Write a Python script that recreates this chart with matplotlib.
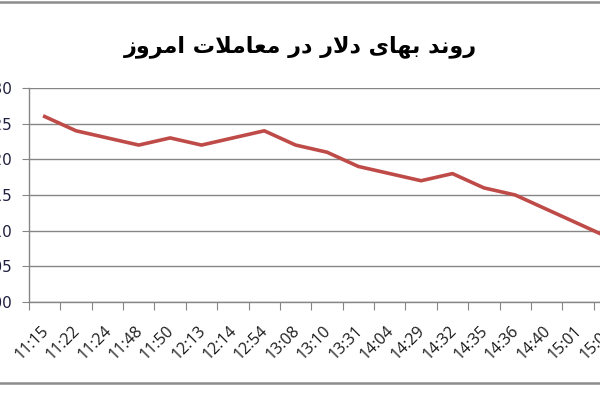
import matplotlib
matplotlib.use("Agg")
import matplotlib.pyplot as plt
import matplotlib.transforms as mtransforms
from matplotlib.patches import Rectangle

# data
times = ["11:15", "11:22", "11:24", "11:48", "11:50", "12:13", "12:14", "12:54",
         "13:08", "13:10", "13:31", "14:04", "14:29", "14:32", "14:35", "14:36",
         "14:40", "15:01", "15:05"]
prices = [3626, 3624, 3623, 3622, 3623, 3622, 3623, 3624,
          3622, 3621, 3619, 3618, 3617, 3618, 3616, 3615,
          3613, 3611, 3609]
y_ticks = [3600, 3605, 3610, 3615, 3620, 3625, 3630]
title = "روند بهای دلار در معاملات امروز"

# minimal Persian shaping (matplotlib has no complex text layout)
FORMS = {
    "ا": ("\uFE8D", "\uFE8E", None, None),
    "ب": ("\uFE8F", "\uFE90", "\uFE91", "\uFE92"),
    "ت": ("\uFE95", "\uFE96", "\uFE97", "\uFE98"),
    "د": ("\uFEA9", "\uFEAA", None, None),
    "ر": ("\uFEAD", "\uFEAE", None, None),
    "ز": ("\uFEAF", "\uFEB0", None, None),
    "ع": ("\uFEC9", "\uFECA", "\uFECB", "\uFECC"),
    "ل": ("\uFEDD", "\uFEDE", "\uFEDF", "\uFEE0"),
    "م": ("\uFEE1", "\uFEE2", "\uFEE3", "\uFEE4"),
    "ن": ("\uFEE5", "\uFEE6", "\uFEE7", "\uFEE8"),
    "ه": ("\uFEE9", "\uFEEA", "\uFEEB", "\uFEEC"),
    "و": ("\uFEED", "\uFEEE", None, None),
    "ی": ("\uFBFC", "\uFBFD", "\uFBFE", "\uFBFF"),
}
LAM_ALEF = ("\uFEFB", "\uFEFC")


def shape(text):
    out = []
    i = 0
    n = len(text)
    while i < n:
        ch = text[i]
        if ch not in FORMS:
            out.append(ch)
            i += 1
            continue
        prev = text[i - 1] if i > 0 else ""
        joins_prev = prev in FORMS and FORMS[prev][2] is not None
        if ch == "ل" and i + 1 < n and text[i + 1] == "ا":
            out.append(LAM_ALEF[1] if joins_prev else LAM_ALEF[0])
            i += 2
            continue
        nxt = text[i + 1] if i + 1 < n else ""
        joins_next = FORMS[ch][2] is not None and nxt in FORMS
        iso, fin, ini, med = FORMS[ch]
        if joins_prev and joins_next:
            out.append(med)
        elif joins_prev:
            out.append(fin)
        elif joins_next:
            out.append(ini)
        else:
            out.append(iso)
        i += 1
    return "".join(out)[::-1]


fig = plt.figure(figsize=(6, 4), dpi=100)
fig.patch.set_facecolor("white")

# chart border (Excel style frame, partly cut off)
fig.patches.append(Rectangle((-0.05, 17 / 400), 1.1, 381 / 400, transform=fig.transFigure,
                             fill=False, edgecolor="#8c8c8c", linewidth=1.8))

ax = fig.add_axes([29 / 600, 98 / 400, 596 / 600, 214 / 400])
x = list(range(len(times)))
ax.plot(x, prices, color="#BE4B48", linewidth=2.6, solid_joinstyle="round", zorder=3)

ax.set_xlim(-0.5, len(times) - 0.5)
ax.set_ylim(y_ticks[0], y_ticks[-1])
ax.set_yticks(y_ticks)
ax.set_yticklabels([str(v) for v in y_ticks])
ax.set_xticks([i - 0.5 for i in range(len(times) + 1)], minor=False)
ax.set_xticklabels([])
ax.set_xticks(x, minor=True)
ax.set_xticklabels(times, minor=True, rotation=45, ha="right", rotation_mode="anchor",
                   fontsize=11.5, family="Open Sans", color="#1a1a1a")
ax.tick_params(axis="x", which="major", length=6, color="#868686", direction="out")
ax.tick_params(axis="x", which="minor", length=0, pad=15)
ax.tick_params(axis="y", length=5, color="#868686", direction="out", pad=7,
               labelsize=11, labelcolor="#1f1f3f")

# nudge the rotated labels slightly left, as in the reference
shift = mtransforms.ScaledTranslation(-4 / 100, 0, fig.dpi_scale_trans)
for lab in ax.get_xticklabels(minor=True):
    lab.set_transform(lab.get_transform() + shift)

ax.grid(axis="y", color="#868686", linewidth=1)
for s in ["top", "right"]:
    ax.spines[s].set_visible(False)
for s in ["left", "bottom"]:
    ax.spines[s].set_color("#868686")
    ax.spines[s].set_linewidth(1)

fig.text(0.5, 1 - 47 / 400, shape(title), ha="center", va="center", fontsize=16,
         fontweight="bold", family="DejaVu Sans")

fig.savefig("out.png", dpi=100)
